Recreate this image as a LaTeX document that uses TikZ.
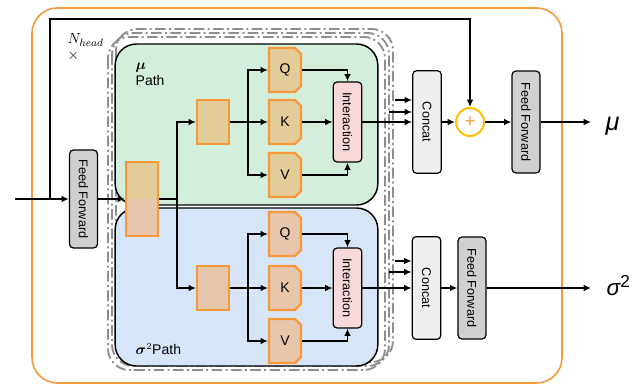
\documentclass[tikz,border=0pt]{standalone}
\usepackage{amsmath}
\usepackage{fontspec}
\setmainfont{Liberation Sans}
\usetikzlibrary{arrows.meta,positioning,shapes.misc}
\definecolor{lineorange}{HTML}{F7993B}
\definecolor{muback}{HTML}{D4EEDC}
\definecolor{sigback}{HTML}{D7E5F8}
\definecolor{mublock}{HTML}{E2CC98}
\definecolor{sigblock}{HTML}{E8C6AC}
\definecolor{interfill}{HTML}{F9D9D7}
\definecolor{concatfill}{HTML}{EFEFEF}
\definecolor{fffill}{HTML}{D0D0D0}
\definecolor{framegray}{HTML}{8E8E8E}
\definecolor{addyellow}{HTML}{FFC000}
\tikzset{
    arr/.style = {-{Latex[length=5.5pt,width=5pt]}, line width=1.4pt},
    plain-line/.style = {line width=1.4pt},
    proj-box/.style = {draw=lineorange, line width=1.6pt, chamfered rectangle, chamfered rectangle corners={north east,south east}, chamfered rectangle xsep=2pt, chamfered rectangle ysep=2.5pt, minimum width=24pt, minimum height=33pt, inner sep=0pt, font=\fontsize{10.5}{12}\selectfont},
    v-box/.style = {draw=black, line width=0.9pt, rounded corners=3pt, inner sep=0pt, font=\fontsize{9.5}{11}\selectfont},
    ff-box/.style = {v-box, fill=fffill, minimum width=21pt, minimum height=76.5pt},
    concat-box/.style = {v-box, fill=concatfill, minimum width=21.5pt, minimum height=77pt},
    inter-box/.style = {v-box, fill=interfill, minimum width=21.5pt, minimum height=60pt},
    path-box/.style = {draw=black, line width=1.1pt, rounded corners=16pt, minimum width=197pt},
    head-frame/.style = {draw=framegray, line width=1.4pt, dash pattern=on 8pt off 2.5pt on 1.5pt off 2.5pt, rounded corners=16pt},
    add-node/.style = {circle, draw=addyellow, line width=1.5pt, fill=white, minimum size=21pt, inner sep=0pt, text=lineorange, font=\fontsize{14}{14}\selectfont},
}
\begin{document}
\begin{tikzpicture}[x=0.75pt, y=-0.75pt]
\useasboundingbox (0,0) rectangle (643,385);
% outer block
\draw[lineorange, line width=1.2pt, rounded corners=19pt] (32,8) rectangle (562,383);
% stacked heads
\foreach \k in {2,1,0}
    \draw[head-frame] (108+4*\k, 37-4*\k) rectangle (385+4*\k, 370-4*\k);
% the two paths
\node[path-box, fill=muback, minimum height=120.75pt] (mupath) at (246.5,124.5) {};
\node[path-box, fill=sigback, minimum height=118.5pt] (sigpath) at (246.5,287) {};
\node[anchor=west, font=\fontsize{10.5}{12}\selectfont, align=left] (mulabel) at (131,74) {$\boldsymbol{\mu}$\\Path};
\node[anchor=west, font=\fontsize{10.5}{12}\selectfont] (siglabel) at (131,349) {$\boldsymbol{\sigma}^2$Path};
\node[anchor=north west, font=\fontsize{11}{12}\selectfont, align=left] (nhead) at (63,29) {$N_{head}$\\$\times$};

% input, feed forward and split
\coordinate (in) at (15,199);
\coordinate (branch) at (50,199);
\coordinate (res) at (50,19);
\node[ff-box, minimum height=73.5pt] (ffin) at (83.5,199) {\rotatebox{-90}{Feed Forward}};
\node[proj-box, fill=mublock, minimum height=55.5pt,
      path picture={\fill[sigblock] (path picture bounding box.south west) rectangle (path picture bounding box.east);}]
      (split) at (142,199) {};
\coordinate (fork) at (177,199);

% mu path
\node[proj-box, fill=mublock] (pmu) at (213,122) {};
\node[proj-box, fill=mublock] (qmu) at (285,70) {Q};
\node[proj-box, fill=mublock] (kmu) at (285,122) {K};
\node[proj-box, fill=mublock] (vmu) at (285,175) {V};
\node[inter-box] (imu) at (347.5,122) {\rotatebox{-90}{Interaction}};
\coordinate (bmu) at (248,122);

% sigma path
\node[proj-box, fill=sigblock] (psig) at (213,288) {};
\node[proj-box, fill=sigblock] (qsig) at (285,234) {Q};
\node[proj-box, fill=sigblock] (ksig) at (285,288) {K};
\node[proj-box, fill=sigblock] (vsig) at (285,341) {V};
\node[inter-box] (isig) at (347.5,288) {\rotatebox{-90}{Interaction}};
\coordinate (bsig) at (248,288);

% merging
\node[concat-box] (cmu) at (427,122) {\rotatebox{-90}{Concat}};
\node[add-node] (add) at (470,122) {+};
\node[ff-box] (ffmu) at (526,122) {\rotatebox{-90}{Feed Forward}};
\coordinate (outmu) at (591,122);
\node[anchor=base west, font=\fontsize{19}{22}\selectfont] (mu) at (601,131) {\itshape μ};
\node[concat-box] (csig) at (426.5,288) {\rotatebox{-90}{Concat}};
\node[ff-box] (ffsig) at (472,288) {\rotatebox{-90}{Feed Forward}};
\coordinate (outsig) at (591,288);
\node[anchor=base west, font=\fontsize{17}{20}\selectfont] (sig) at (602,295) {\itshape σ\upshape\raisebox{0.6ex}{\fontsize{13}{14}\selectfont 2}};
\coordinate (h1mu) at (395,100);
\coordinate (h2mu) at (389,112);
\coordinate (h1sig) at (395,261);
\coordinate (h2sig) at (389,272);

% connectors
\draw[arr] (in) -- (ffin);
\draw[arr] (ffin) -- (split);
\draw[arr] (branch) -- (res) -| (add);
\draw[plain-line] (split) -- (fork);
\draw[arr] (fork) |- (pmu);
\draw[arr] (fork) |- (psig);

\draw[plain-line] (pmu) -- (bmu);
\draw[arr] (bmu) |- (qmu);
\draw[arr] (bmu) -- (kmu);
\draw[arr] (bmu) |- (vmu);
\draw[arr] (qmu) -| (imu);
\draw[arr] (kmu) -- (imu);
\draw[arr] (vmu) -| (imu);
\draw[arr] (imu) -- (cmu);

\draw[plain-line] (psig) -- (bsig);
\draw[arr] (bsig) |- (qsig);
\draw[arr] (bsig) -- (ksig);
\draw[arr] (bsig) |- (vsig);
\draw[arr] (qsig) -| (isig);
\draw[arr] (ksig) -- (isig);
\draw[arr] (vsig) -| (isig);
\draw[arr] (isig) -- (csig);

\draw[arr] (h1mu) -- (h1mu -| cmu.west);
\draw[arr] (h2mu) -- (h2mu -| cmu.west);
\draw[arr] (h1sig) -- (h1sig -| csig.west);
\draw[arr] (h2sig) -- (h2sig -| csig.west);

\draw[arr] (cmu) -- (add);
\draw[arr] (add) -- (ffmu);
\draw[arr] (ffmu) -- (outmu);
\draw[arr] (csig) -- (ffsig);
\draw[arr] (ffsig) -- (outsig);
\end{tikzpicture}
\end{document}
